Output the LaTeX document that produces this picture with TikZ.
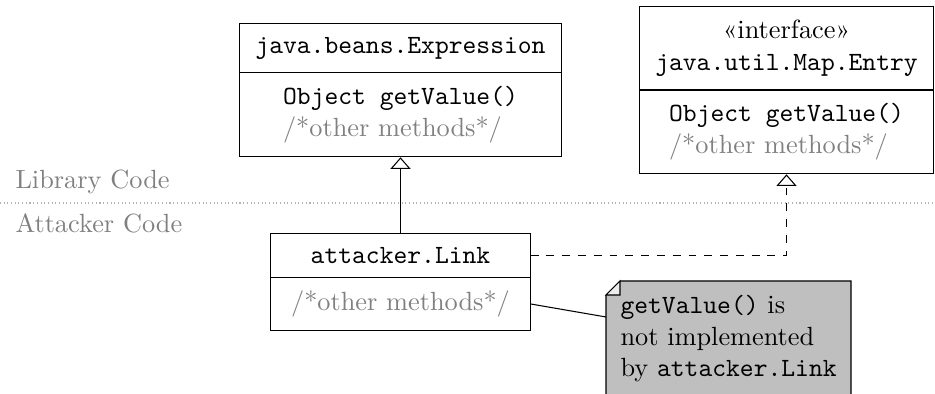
\documentclass[tikz,border=0pt]{standalone}
\usepackage{tikz}
\usetikzlibrary{shapes.multipart,arrows.meta}

\begin{document}
\begin{tikzpicture}[x=0.38pt, y=-0.38pt,
  umlclass/.style={draw, rectangle split, rectangle split parts=2, align=left,
                   inner xsep=6pt, inner ysep=5pt, font=\ttfamily},
  comment/.style={text=gray, font=\rmfamily},
  realize/.style={-{Triangle[open, width=7.6pt, length=4.4pt]}}]

\useasboundingbox (0,0) rectangle (935,394);

% Draw library / attacker border
\draw [densely dotted, gray!60] (0,203) -- (935,203);
\node [comment, anchor=base west, inner sep=0] (libcode) at (15,189) {Library Code};
\node [comment, anchor=base west, inner sep=0] (attcode) at (15,233) {Attacker Code};

% Draw classes
\node [umlclass, anchor=north] (expr) at (400.5,23)
  {java.beans.Expression
   \nodepart{second} Object getValue()\\ \textcolor{gray}{\rmfamily /*other methods*/}};
\node [umlclass, anchor=north] (map) at (786.5,6)
  {\makebox[9.975em]{\rmfamily «interface»}\\ java.util.Map.Entry
   \nodepart{second} Object getValue()\\ \textcolor{gray}{\rmfamily /*other methods*/}};
\node [umlclass, anchor=north, minimum width=98.5pt] (link) at (400.5,233)
  {attacker.Link
   \nodepart{second} \textcolor{gray}{\rmfamily /*other methods*/}};

% Draw note
\draw [fill=lightgray] (606,295) -- (620,281) -- (851,281) -- (851,430) -- (606,430) -- cycle;
\draw [fill=gray!15] (606,295) -- (620,281) -- (620,295) -- cycle;
\coordinate (notein) at (606,317);
\node [anchor=north west, align=left, inner sep=0] (note) at (620,295)
  {\texttt{getValue()} is\\ not implemented\\ by \texttt{attacker.Link}};

% Draw relations
\draw [realize] (link.north) -- (expr.south);
\draw [realize, dashed] (link.text east) -| (map.south);
\draw (link.two east) -- (notein);

\end{tikzpicture}
\end{document}
